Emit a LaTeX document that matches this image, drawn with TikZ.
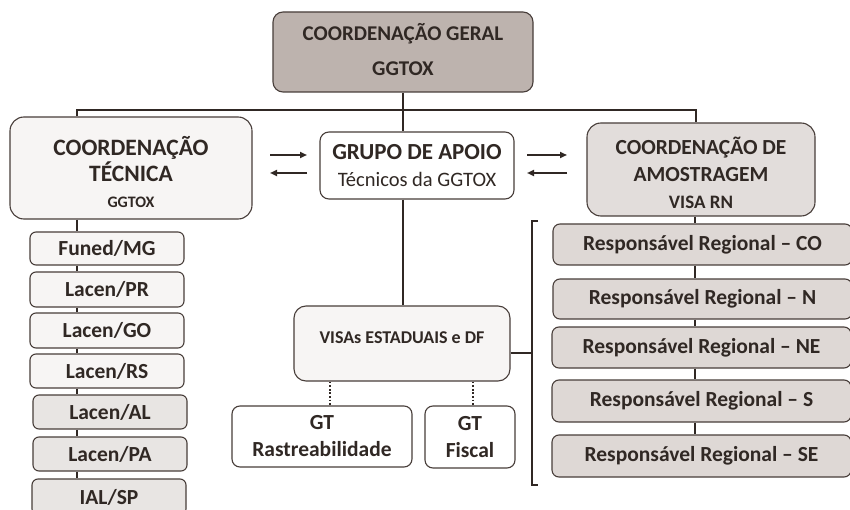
\documentclass[tikz,border=0pt]{standalone}
\usepackage{fontspec}
\setmainfont{Carlito}
\usetikzlibrary{arrows.meta}
\definecolor{ink}{RGB}{48,40,36}
\definecolor{edge}{RGB}{72,62,58}
\definecolor{topfill}{RGB}{189,179,174}
\definecolor{paper}{RGB}{247,245,244}
\definecolor{lightg}{RGB}{226,221,219}
\definecolor{respfill}{RGB}{222,216,213}
\definecolor{labg}{RGB}{232,229,227}
\begin{document}
\begin{tikzpicture}[x=1pt,y=-1pt,
  box/.style={draw=edge, line width=1.1pt, rounded corners=#1, text=ink, align=center, inner sep=0pt},
  box/.default=7pt,
  txt/.style={text=ink, align=center, inner sep=0pt},
  conn/.style={draw=ink, line width=2.3pt},
  thin conn/.style={draw=ink, line width=1.9pt},
  dotline/.style={draw=ink, line width=1.8pt, dash pattern=on 1.8pt off 1.8pt},
  arr/.style={draw=ink, line width=2pt, -{Triangle[length=7pt,width=6pt]}},
  big/.style={font=\fontsize{21.5}{27}\selectfont\bfseries},
  lab/.style={box=6pt, minimum width=154pt, minimum height=34pt, font=\fontsize{21.5}{26}\selectfont\bfseries},
  resp/.style={box=7pt, fill=respfill, minimum width=299pt, minimum height=41pt, font=\fontsize{21.5}{26}\selectfont\bfseries}
]
\path[use as bounding box, clip] (0,0) rectangle (850,510);
\fill[white] (0,0) rectangle (850,510);

% top
\node[box=10pt, fill=topfill, minimum width=260pt, minimum height=80pt,
      label={[txt, yshift=2pt, font=\fontsize{21}{35}\selectfont\bfseries]center:{COORDENAÇÃO GERAL\\GGTOX}}] (top) at (403,52) {};

% left coordination
\node[box=14pt, fill=paper, minimum width=242pt, minimum height=102pt,
      label={[txt, yshift=-4pt, font=\fontsize{23.5}{26}\selectfont\bfseries]center:{COORDENAÇÃO\\TÉCNICA\\{\fontsize{16}{28}\selectfont GGTOX}}}] (lb) at (131,168) {};

% support group
\node[box=9pt, fill=white, minimum width=194pt, minimum height=67pt,
      font=\fontsize{23}{27}\selectfont] (grupo) at (417,165.5)
  {\bfseries GRUPO DE APOIO\\{\fontsize{20.5}{27}\selectfont Técnicos da GGTOX}};

% right coordination
\node[box=14pt, fill=lightg, minimum width=228pt, minimum height=93pt,
      label={[txt, yshift=-3pt, font=\fontsize{21.5}{27}\selectfont\bfseries]center:{COORDENAÇÃO DE\\AMOSTRAGEM\\{\fontsize{19}{22}\selectfont VISA RN}}}] (rb) at (701,169.5) {};

% VISAs
\node[box=12pt, fill=paper, minimum width=216pt, minimum height=75pt,
      font=\fontsize{18}{22}\selectfont\bfseries] (visas) at (402,343.5)
  {\raisebox{0pt}[0pt][0pt]{VISAs ESTADUAIS e DF}};

% GT boxes
\node[box=8pt, fill=white, minimum width=180pt, minimum height=61pt, big] (gtr) at (322,436.5) {GT\\Rastreabilidade};
\node[box=8pt, fill=white, minimum width=90pt, minimum height=62pt, big] (gtf) at (470,437) {GT\\Fiscal};

% lab boxes
\node[lab, fill=paper, minimum height=33pt] (l1) at (107,248.5) {Funed/MG};
\node[lab, fill=paper, minimum height=35pt] (l2) at (107,289.5) {Lacen/PR};
\node[lab, fill=paper, minimum height=35pt] (l3) at (107,330.5) {Lacen/GO};
\node[lab, fill=paper, minimum height=34pt] (l4) at (107,371) {Lacen/RS};
\node[lab, fill=labg, minimum height=34pt] (l5) at (110,412) {Lacen/AL};
\node[lab, fill=labg, minimum height=34pt] (l6) at (110,454) {Lacen/PA};
\node[lab, fill=labg, minimum height=36pt] (l7) at (109,497) {IAL/SP};

% regional boxes
\node[resp] (r1) at (702.5,244.5) {Responsável Regional – CO};
\node[resp, minimum height=40pt] (r2) at (702.5,299) {Responsável Regional – N};
\node[resp] (r3) at (701.5,347.5) {Responsável Regional – NE};
\node[resp, minimum height=42pt] (r4) at (701.5,401) {Responsável Regional – S};
\node[resp, minimum height=42pt] (r5) at (701.5,456) {Responsável Regional – SE};

% helper coordinates
\coordinate (busL) at (77,110);
\coordinate (busR) at (696,110);
\coordinate (ls) at (77,0);
\coordinate (rs) at (695,0);
\coordinate (d1) at (330,0);
\coordinate (d2) at (473,0);
\coordinate (bx) at (532,353);
\coordinate (btop) at (532,221);
\coordinate (bbot) at (532,485);
\coordinate (btopT) at (538,221);
\coordinate (bbotT) at (538,485);

% hierarchy lines
\draw[conn] (lb.north -| busL) -- (busL) -- (busR) -- (rb.north -| busR);
\draw[conn] (top.south) -- (top.south |- grupo.north);
\draw[conn] (top.south |- grupo.south) -- (top.south |- visas.north);

% left chain
\draw[thin conn] (lb.south -| ls) -- (l1.north -| ls);
\draw[thin conn] (l1.south -| ls) -- (l2.north -| ls);
\draw[thin conn] (l2.south -| ls) -- (l3.north -| ls);
\draw[thin conn] (l3.south -| ls) -- (l4.north -| ls);
\draw[thin conn] (l4.south -| ls) -- (l5.north -| ls);
\draw[thin conn] (l5.south -| ls) -- (l6.north -| ls);
\draw[thin conn] (l6.south -| ls) -- (l7.north -| ls);

% right chain
\draw[thin conn] (rb.south -| rs) -- (r1.north -| rs);
\draw[thin conn] (r1.south -| rs) -- (r2.north -| rs);
\draw[thin conn] (r2.south -| rs) -- (r3.north -| rs);
\draw[thin conn] (r3.south -| rs) -- (r4.north -| rs);
\draw[thin conn] (r4.south -| rs) -- (r5.north -| rs);

% bracket
\draw[thin conn] (btopT) -- (btop) -- (bbot) -- (bbotT);
\draw[thin conn] (visas.east |- bx) -- (bx);

% dotted
\draw[dotline] (visas.south -| d1) -- (gtr.north -| d1);
\draw[dotline] (visas.south -| d2) -- (gtf.north -| d2);

% arrows
\coordinate (a1) at (270,155); \coordinate (a2) at (307,155);
\coordinate (a3) at (307,173); \coordinate (a4) at (270,173);
\coordinate (b1) at (527,155); \coordinate (b2) at (567,155);
\coordinate (b3) at (567,173); \coordinate (b4) at (527,173);
\draw[arr] (a1) -- (a2);
\draw[arr] (a3) -- (a4);
\draw[arr] (b1) -- (b2);
\draw[arr] (b3) -- (b4);
\end{tikzpicture}
\end{document}
